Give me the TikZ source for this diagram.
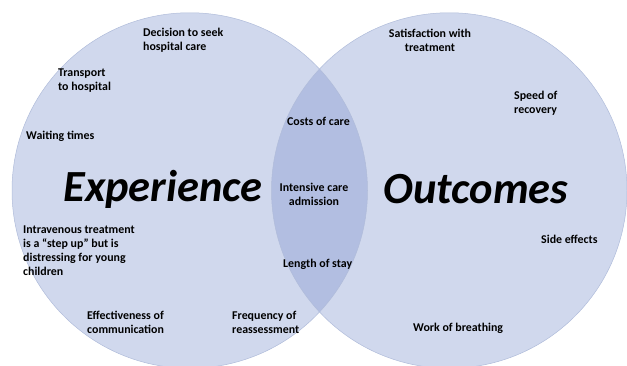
\documentclass[tikz,border=0pt]{standalone}
\usepackage{fontspec}
\setmainfont{Carlito}
\usepackage{tikz}
\definecolor{circfill}{RGB}{208,216,237}
\definecolor{lensfill}{RGB}{178,190,225}
\definecolor{circline}{RGB}{176,188,218}
\tikzset{
    item/.style={inner sep=0pt, align=left, font=\bfseries\fontsize{11.9}{14}\selectfont},
    itemc/.style={item, align=center},
    title/.style={inner sep=0pt, font=\bfseries\itshape\fontsize{44.5}{44.5}\selectfont}
}

\begin{document}
\begin{tikzpicture}[x=1pt, y=-1pt]
    %% Background
    \useasboundingbox (0,0) rectangle (627,365);
    %% Circles
    \fill[circfill] (189.75,190.5) circle (177.75);
    \fill[circfill] (449.25,190.5) circle (177.75);
    \begin{scope}
        \clip (189.75,190.5) circle (177.75);
        \fill[lensfill] (449.25,190.5) circle (177.75);
    \end{scope}
    \draw[circline, line width=0.5pt] (189.75,190.5) circle (177.75);
    \draw[circline, line width=0.5pt] (449.25,190.5) circle (177.75);
    %% Titles
    \node[title] (experience) at (163,189) {Experience};
    \node[title] (outcomes) at (476,189) {Outcomes};
    %% Experience
    \node[item, anchor=west] (decision) at (143,40) {Decision to seek\\hospital care};
    \node[item, anchor=west] (transport) at (58,81) {Transport\\to hospital};
    \node[item, anchor=west] (waiting) at (26,136) {Waiting times};
    \node[item, anchor=west] (intravenous) at (23,251) {Intravenous treatment\\is a “step up” but is\\distressing for young\\children};
    \node[item, anchor=west] (communication) at (87,322) {Effectiveness of\\communication};
    \node[item, anchor=west] (reassessment) at (232,322) {Frequency of\\reassessment};
    %% Overlap
    \node[item, anchor=west] (costs) at (287,121) {Costs of care};
    \node[itemc] (intensive) at (314,194) {Intensive care\\admission};
    \node[item, anchor=west] (stay) at (283,264) {Length of stay};
    %% Outcomes
    \node[itemc] (satisfaction) at (430,40) {Satisfaction with\\treatment};
    \node[item, anchor=west] (speed) at (514,103) {Speed of\\recovery};
    \node[item, anchor=west] (side) at (541,239) {Side effects};
    \node[item, anchor=west] (breathing) at (413,328) {Work of breathing};
\end{tikzpicture}
\end{document}
